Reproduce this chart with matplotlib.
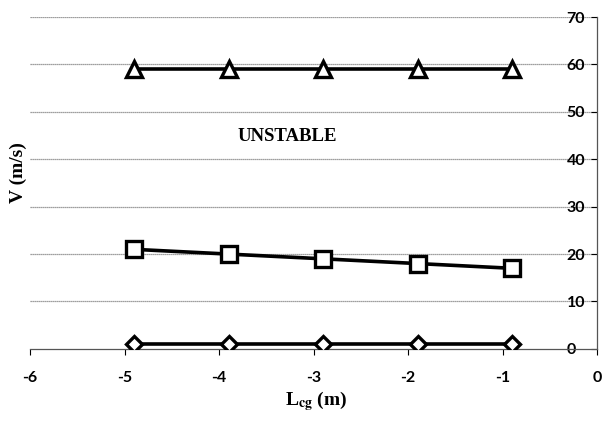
import matplotlib
matplotlib.use("Agg")
import matplotlib.pyplot as plt

# Data
lcg = [-4.9, -3.9, -2.9, -1.9, -0.9]
v_upper = [59, 59, 59, 59, 59]
v_mid = [21, 20, 19, 18, 17]
v_low = [1, 1, 1, 1, 1]
x_ticks = [-6, -5, -4, -3, -2, -1, 0]
y_ticks = [0, 10, 20, 30, 40, 50, 60, 70]

plt.rcParams['mathtext.fontset'] = 'stix'
plt.rcParams['mathtext.default'] = 'bf'
plt.rcParams['axes.unicode_minus'] = False

fig = plt.figure(figsize=(6.02, 4.26), dpi=100)
ax = fig.add_axes([0.05, 0.181, 0.942, 0.779])

# horizontal grid
for y in y_ticks[1:]:
    ax.axhline(y, color='#808080', lw=0.9, ls=(0, (1, 0.6)), zorder=1)

kw = dict(color='black', lw=2.6, mfc='white', mec='black', mew=2.4, zorder=3)
ax.plot(lcg, v_upper, marker='^', ms=11, **kw)
ax.plot(lcg, v_mid, marker='s', ms=11, **kw)
ax.plot(lcg, v_low, marker='D', ms=8, **kw)

ax.set_xlim(-6, 0)
ax.set_ylim(0, 70)
ax.set_xticks(x_ticks)
ax.set_yticks(y_ticks)

ax.spines['top'].set_visible(False)
ax.spines['left'].set_visible(False)
ax.spines['right'].set_color('#555555')
ax.spines['bottom'].set_color('#555555')
ax.spines['right'].set_linewidth(0.9)
ax.spines['bottom'].set_linewidth(0.9)

ax.yaxis.tick_right()
ax.tick_params(axis='y', direction='in', length=4, pad=-22, labelsize=11.5)
ax.tick_params(axis='x', direction='out', length=4, pad=12, labelsize=11.5)
for lab in ax.get_xticklabels() + ax.get_yticklabels():
    lab.set_fontfamily('Lato')
    lab.set_fontweight('bold')

ax.text(-3.81, 44.9, 'UNSTABLE', fontfamily='Liberation Serif', fontweight='bold',
        fontsize=13.5, va='center')

fig.text(0.03, 0.594, 'V (m/s)', rotation=90, fontfamily='Liberation Serif',
         fontweight='bold', fontsize=14, ha='center', va='center')
fig.text(0.525, 0.058, r'L$_{cg}$ (m)', fontfamily='Liberation Serif',
         fontweight='bold', fontsize=14, ha='center', va='center')

fig.savefig('out.png', dpi=100)
